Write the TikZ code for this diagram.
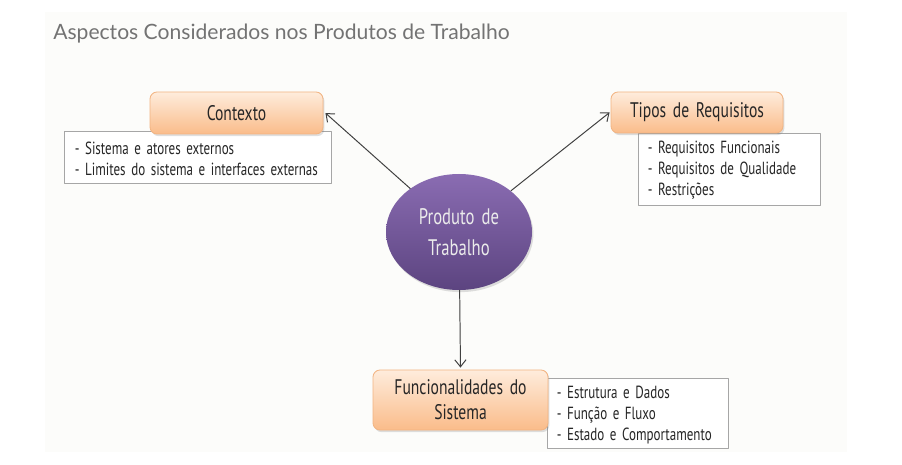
\documentclass[tikz,border=0pt]{standalone}
\usepackage{fontspec}
\usepackage{tikz}
\usetikzlibrary{arrows.meta,shapes.geometric,shadows}
\newfontfamily\narrowfont[FakeStretch=0.74]{PT Sans}
\newfontfamily\listfont[FakeStretch=0.74, WordSpace=1.6]{PT Sans}
\newfontfamily\titlefont{Lato}
\definecolor{sheet}{RGB}{252,252,250}
\definecolor{orangetop}{RGB}{254,236,220}
\definecolor{orangebot}{RGB}{250,188,138}
\definecolor{orangeline}{RGB}{242,180,130}
\definecolor{purpletop}{RGB}{138,108,178}
\definecolor{purplebot}{RGB}{92,68,128}
\definecolor{infoline}{RGB}{166,166,166}
\definecolor{pen}{RGB}{64,64,64}
\def\px{0.025cm}

\begin{document}
\begin{tikzpicture}[x=0.025cm, y=-0.025cm, line cap=round, line join=round,
  topicbox/.style={draw=orangeline, line width=0.6pt, rounded corners=5pt,
    top color=orangetop, bottom color=orangebot, align=center,
    font=\narrowfont\fontsize{15}{18}\selectfont, text=black!85,
    drop shadow={opacity=0.25, shadow xshift=1pt, shadow yshift=-1.5pt}},
  infobox/.style={draw=infoline, line width=0.6pt, fill=white, inner sep=0pt},
  infotext/.style={anchor=west, align=left, inner sep=0pt,
    font=\listfont\fontsize{12.5}{15}\selectfont, text=black!85},
  hubnode/.style={ellipse, draw=none, top color=purpletop, bottom color=purplebot,
    align=center, text=white!92!black, font=\narrowfont\fontsize{16}{22}\selectfont,
    drop shadow={opacity=0.25, shadow xshift=1pt, shadow yshift=-1.5pt}},
  link/.style={pen, line width=0.7pt, -{Straight Barb[length=5pt,width=8pt]}}]

  %========= page =========
  \useasboundingbox (0,0) rectangle (902,465);
  \fill[sheet] (45,12) rectangle (847,452);
  \node[anchor=base west, inner sep=0pt, font=\titlefont\fontsize{15}{17}\selectfont, text=black!55]
    (title) at (53,40) {Aspectos Considerados nos Produtos de Trabalho};

  %========= detail lists (behind the topic boxes) =========
  \node[infobox, minimum width=267*\px, minimum height=52*\px] (ctxinfo) at (197.5,157) {};
  \node[infotext] (ctxlist) at ([xshift=11*\px, yshift=-2*\px]ctxinfo.west)
    {- Sistema e atores externos\\- Limites do sistema e interfaces externas};
  \node[infobox, minimum width=182*\px, minimum height=72*\px] (tiposinfo) at (729,169) {};
  \node[infotext] (tiposlist) at ([xshift=10*\px, yshift=-1*\px]tiposinfo.west)
    {- Requisitos Funcionais\\- Requisitos de Qualidade\\- Restrições};
  \node[infobox, minimum width=181*\px, minimum height=70*\px] (funcinfo) at (637.5,413) {};
  \node[infotext] (funclist) at ([xshift=10*\px, yshift=-2*\px]funcinfo.west)
    {- Estrutura e Dados\\- Função e Fluxo\\- Estado e Comportamento};

  %========= topics =========
  \node[topicbox, minimum width=173*\px, minimum height=42*\px] (ctx) at (236.5,113) {Contexto};
  \node[topicbox, minimum width=172*\px, minimum height=41*\px] (tipos) at (697,112.5) {Tipos de Requisitos};
  \node[topicbox, minimum width=175*\px, minimum height=60*\px] (func) at (460.5,400)
    {Funcionalidades do\\Sistema};

  %========= centre =========
  \node[hubnode, minimum width=146*\px, minimum height=116*\px, inner sep=0pt] (prod) at (459,232)
    {Produto de\\Trabalho};

  %========= links =========
  \draw[link] (prod) -- ([xshift=2*\px]ctx.east);
  \draw[link] (prod) -- ([xshift=-1*\px]tipos.west);
  \draw[link] (prod) -- ([yshift=2*\px]func.north);
\end{tikzpicture}
\end{document}
